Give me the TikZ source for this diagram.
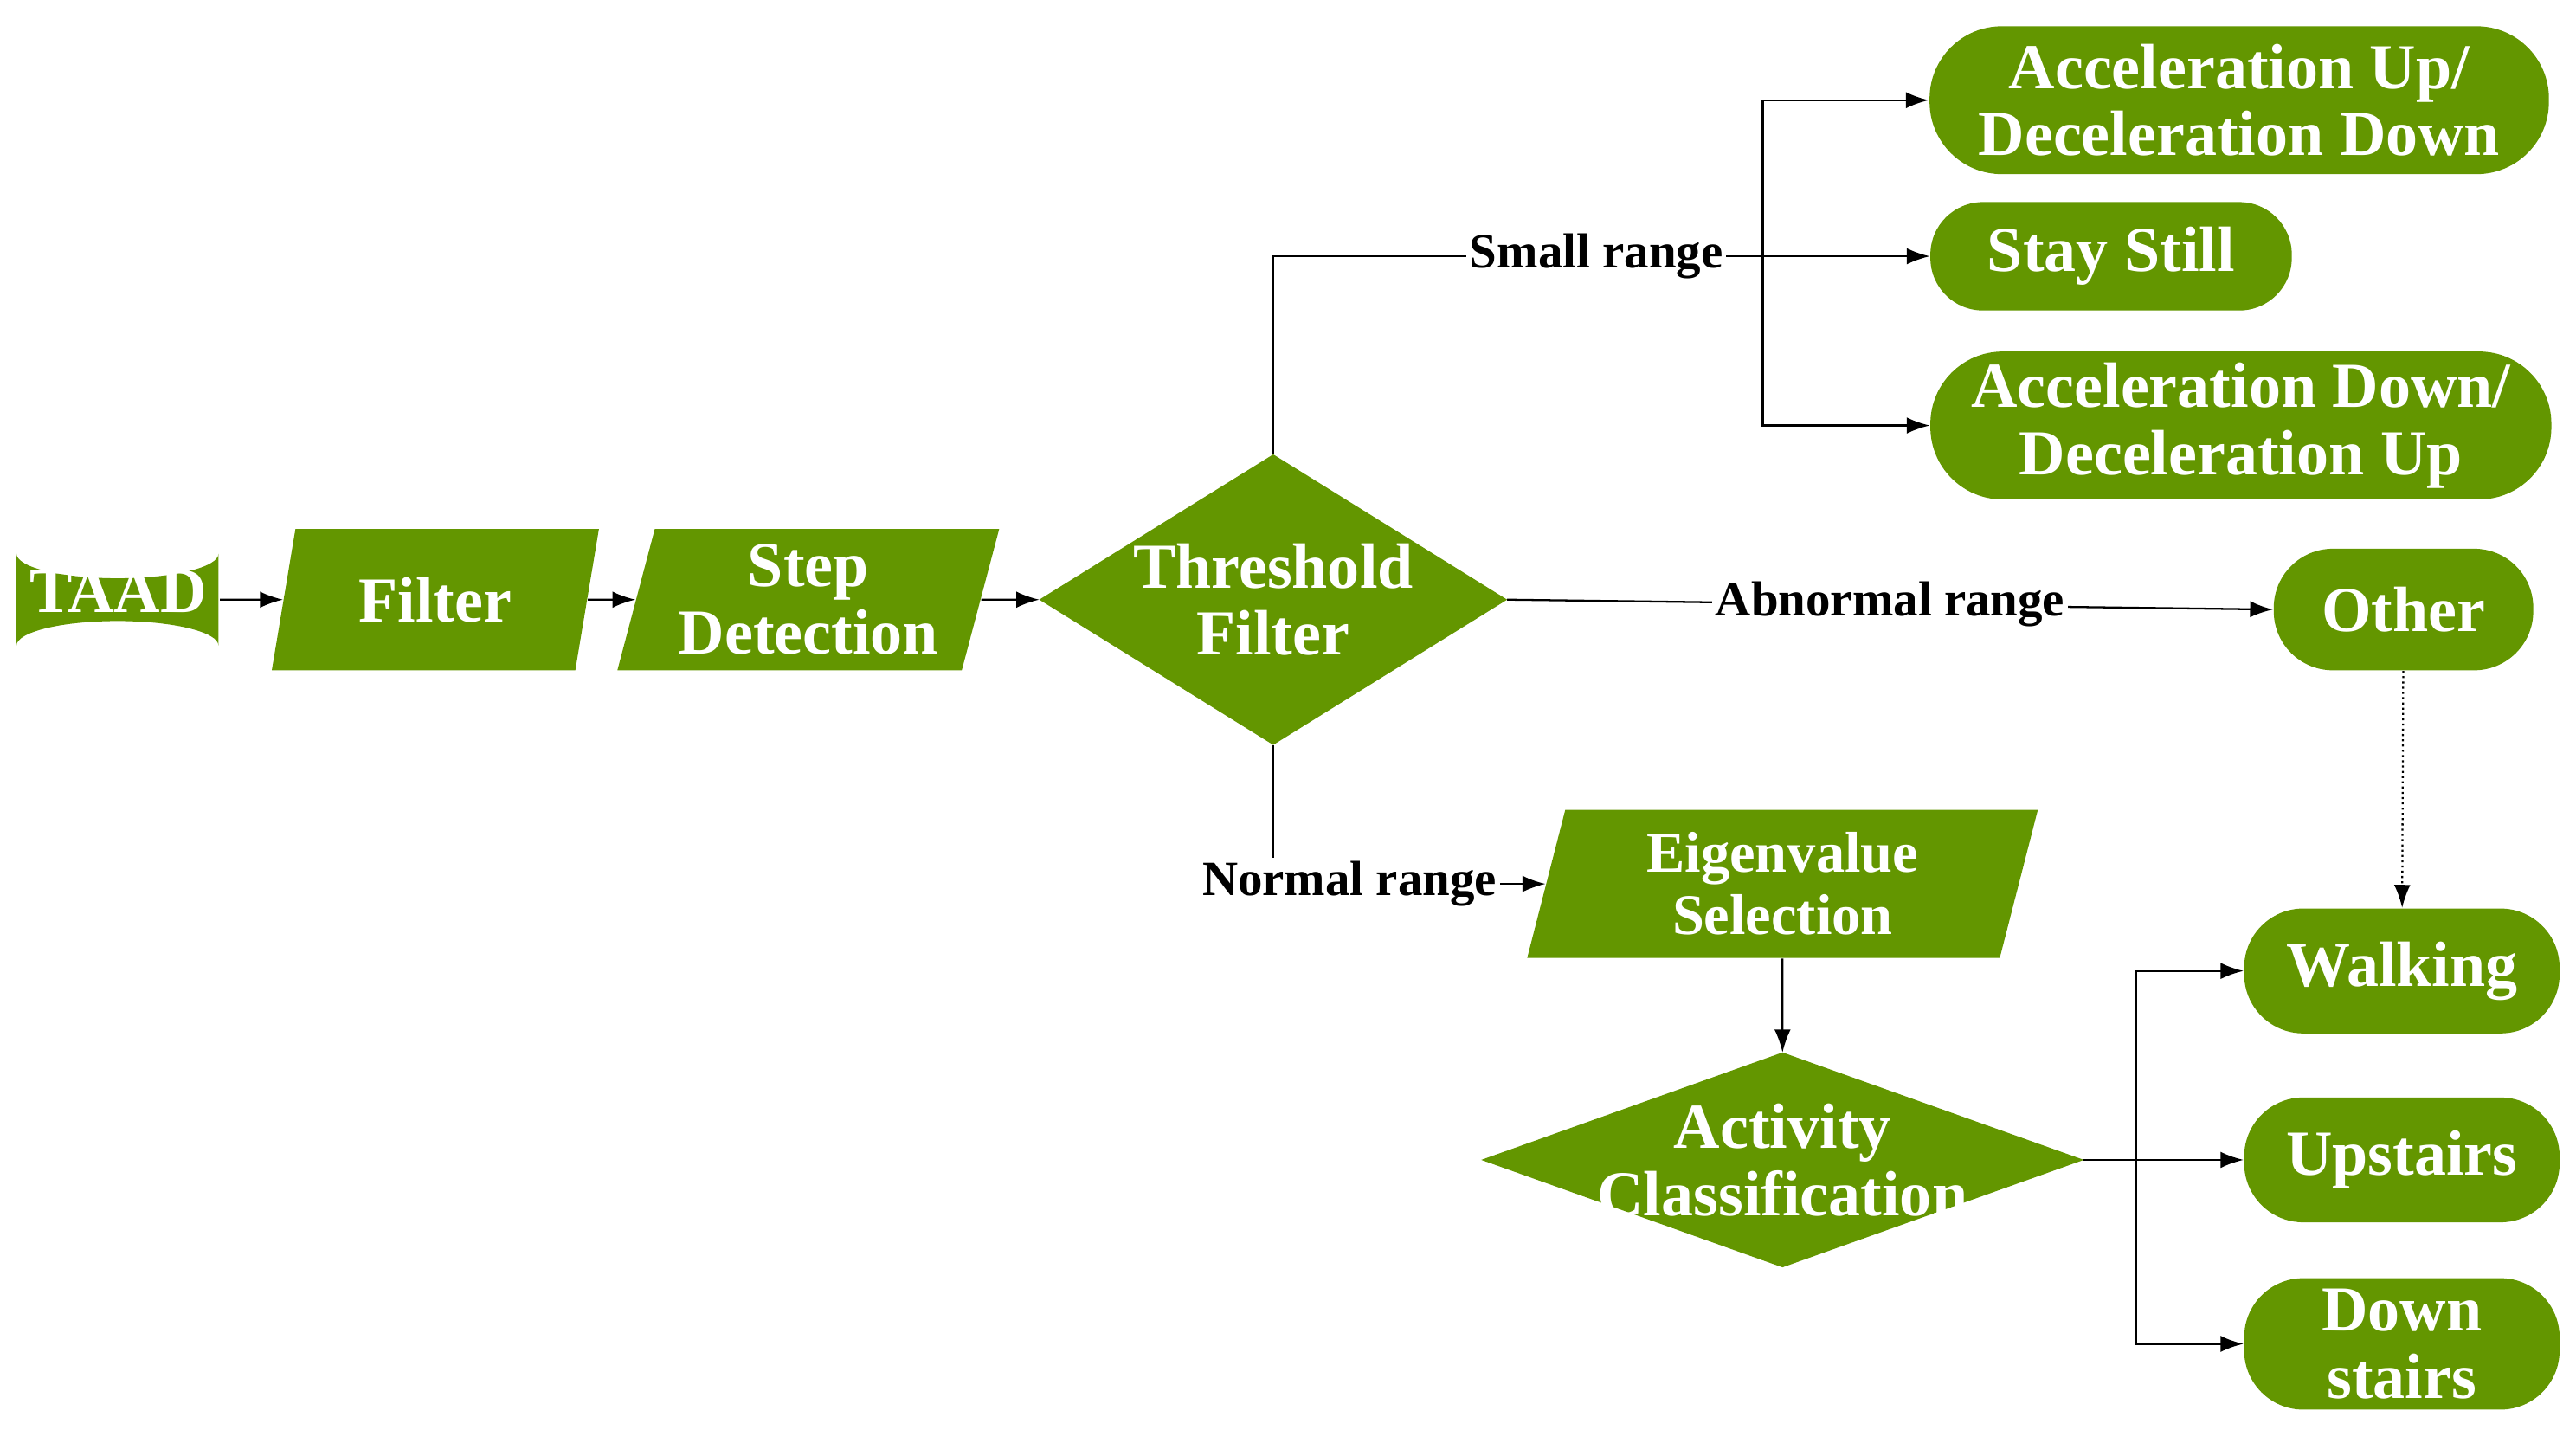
\documentclass[tikz,border=0pt]{standalone}
\usepackage{fontspec}
\setmainfont{Liberation Serif}
\usetikzlibrary{shapes.geometric,arrows.meta}
\definecolor{gr}{HTML}{639600}
\begin{document}
\begin{tikzpicture}[x=0.5pt,y=-0.5pt,
  base/.style={fill=gr,draw=none,text=white,font=\bfseries\fontsize{19.5}{20.5}\selectfont,align=center,inner sep=0pt},
  term/.style={base,rectangle,rounded corners=18pt},
  para/.style={base,trapezium,trapezium stretches=true,trapezium left angle=74,trapezium right angle=106},
  box/.style={rectangle,draw=none,text=white,font=\bfseries\fontsize{19.5}{20.5}\selectfont,align=center,inner sep=0pt},
  lab/.style={font=\bfseries\fontsize{15}{16}\selectfont,fill=white,inner sep=1pt},
  arr/.style={-{Latex[length=7pt,width=5pt]},line width=0.6pt}]
\useasboundingbox (0,0) rectangle (1568,870);
% TAAD cylinder
\fill[gr] (10,337) arc[start angle=180,end angle=0,x radius=61.5,y radius=15] -- (133,393) arc[start angle=0,end angle=-180,x radius=61.5,y radius=15] -- cycle;
\node[box,minimum width=61.5pt,minimum height=43pt] (taad) at (72,360) {TAAD};
\node[para,minimum width=100pt,minimum height=43pt] (filt) at (265,365) {Filter};
\node[para,minimum width=117pt,minimum height=43pt] (step) at (492,365) {Step\\Detection};
\node[box,minimum width=142pt,minimum height=88pt] (thr) at (775,365) {};
\fill[gr] (thr.north) -- (thr.east) -- (thr.south) -- (thr.west) -- cycle;
\node[box] at (thr.center) {Threshold\\Filter};
\node[term,minimum width=188.5pt,minimum height=45pt,rounded corners=22pt] (au) at (1363,61) {Acceleration Up/\\Deceleration Down};
\node[term,minimum width=110pt,minimum height=33pt,rounded corners=16pt] (ss) at (1285,156) {Stay Still};
\node[term,minimum width=189pt,minimum height=45pt,rounded corners=22pt] (ad) at (1364,259) {Acceleration Down/\\Deceleration Up};
\node[term,minimum width=79pt,minimum height=37pt] (oth) at (1463,371) {Other};
\node[para,trapezium left angle=77,trapezium right angle=103,minimum width=157pt,minimum height=45pt,font=\bfseries\fontsize{17.5}{19}\selectfont] (eig) at (1085,538) {Eigenvalue\\Selection};
\node[box,minimum width=183pt,minimum height=65pt] (act) at (1085,706) {};
\fill[gr] (act.north) -- (act.east) -- (act.south) -- (act.west) -- cycle;
\node[box] at (act.center) {Activity\\Classification};
\node[term,minimum width=96pt,minimum height=38pt] (walk) at (1462,591) {Walking};
\node[term,minimum width=96pt,minimum height=38pt] (up) at (1462,706) {Upstairs};
\node[term,minimum width=96pt,minimum height=40pt] (down) at (1462,818) {Down\\stairs};
\coordinate (j1) at (1073,156);
\coordinate (j2) at (1300,706);
\draw[arr] (taad.east |- filt) -- (filt);
\draw[arr] (filt) -- (step);
\draw[arr] (step) -- (thr.west);
\draw[line width=0.6pt] (thr.north) |- (j1) node[lab,pos=0.83] {Small range};
\draw[arr] (j1) -- (ss);
\draw[arr] (j1) |- (au);
\draw[arr] (j1) |- (ad);
\draw[arr] (thr.east) -- (oth.west) node[lab,midway] {Abnormal range};
\draw[arr] (thr.south) |- (eig) node[lab,pos=0.64] {Normal range};
\draw[arr] (eig) -- (act.north);
\draw[line width=0.6pt] (act.east) -- (j2);
\draw[arr] (j2) |- (walk);
\draw[arr] (j2) -- (up);
\draw[arr] (j2) |- (down);
\draw[arr,densely dotted] (oth) -- (walk);
\end{tikzpicture}
\end{document}
